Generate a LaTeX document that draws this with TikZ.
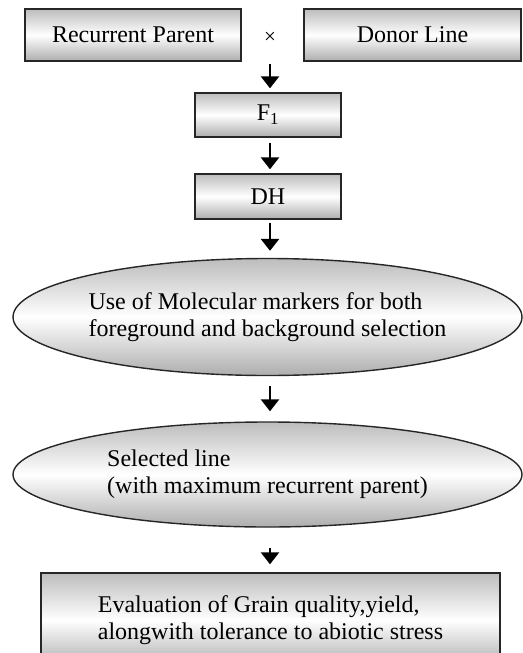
\documentclass[tikz,border=0pt]{standalone}
\usepackage{fontspec}
\setmainfont{Liberation Serif}
\usetikzlibrary{shapes.geometric,arrows.meta}

\begin{document}
\begin{tikzpicture}[
  x=1pt, y=-1pt,
  font=\fontsize{24}{27}\selectfont,
  grad/.style={top color=black!26, bottom color=black!32, middle color=white},
  box/.style={grad, draw=black!85, line width=1.4pt, inner sep=0pt, align=left},
  oval/.style={box, ellipse},
  ar/.style={-{Triangle[width=18pt,length=12pt]}, line width=2.8pt},
]
\useasboundingbox (0,0) rectangle (522,653);

% --- parents ------------------------------------------------------------
\node[box, minimum width=216pt, minimum height=52pt] (rp) at (133,35) {Recurrent Parent};
\node[box, minimum width=217pt, minimum height=52pt] (dl) at (412.5,35) {Donor Line};
\node[inner sep=0pt, font=\fontsize{21}{24}\selectfont] (x) at (270,38) {×};

% --- generations --------------------------------------------------------
\node[box, minimum width=146pt, minimum height=44pt] (f1) at (268,115) {F\textsubscript{1}};
\node[box, minimum width=146pt, minimum height=45pt] (dh) at (268,196.5) {DH};
\node[oval, minimum width=509pt, minimum height=117pt] (mas) at (267.5,317)
     {Use of Molecular markers for both\\foreground and background selection};
\node[oval, minimum width=509pt, minimum height=105pt] (sel) at (267.5,474.5)
     {Selected line\\(with maximum recurrent parent)};
\node[box, minimum width=459pt, minimum height=94pt] (eval) at (270.5,620)
     {Evaluation of Grain quality,yield,\\alongwith tolerance to abiotic stress};

% --- arrows -------------------------------------------------------------
\draw[ar, shorten <=20pt, shorten >=4pt] (x.south) -- (x.south |- f1.north);
\draw[ar, shorten <=5pt, shorten >=4pt] (f1.south -| x) -- (x |- dh.north);
\draw[ar, shorten <=3pt, shorten >=7pt] (dh.south -| x) -- (x |- mas.north);
\draw[ar, shorten <=10pt, shorten >=10pt] (mas.south -| x) -- (x |- sel.north);
\draw[ar, shorten <=20pt, shorten >=8pt] (sel.south -| x) -- (x |- eval.north);
\end{tikzpicture}
\end{document}
